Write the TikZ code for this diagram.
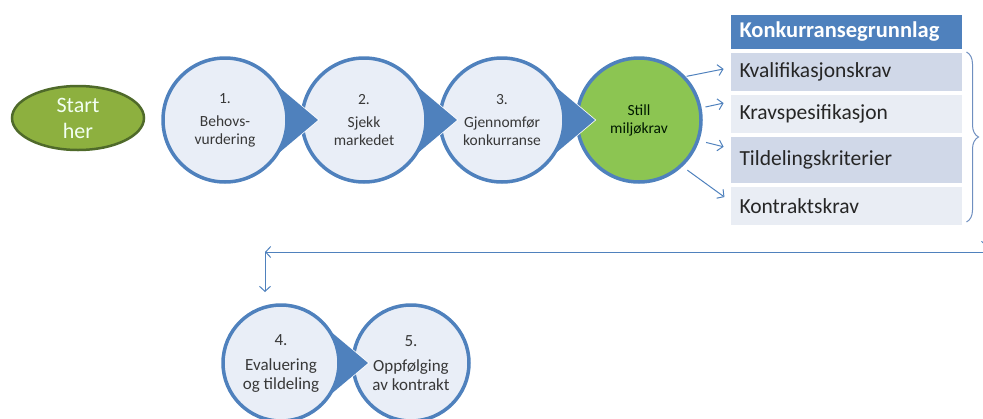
\documentclass[tikz,border=0pt]{standalone}
\usepackage{fontspec}
\setmainfont{Carlito}
\usetikzlibrary{positioning,shapes.geometric,decorations.pathreplacing,arrows.meta}
\definecolor{ofblue}{HTML}{4F81BD}
\definecolor{bracecol}{HTML}{6F8FC0}
\definecolor{stepfill}{HTML}{E9EEF7}
\definecolor{rowdark}{HTML}{D0D8E8}
\definecolor{rowlight}{HTML}{E9EDF4}
\definecolor{startgreen}{HTML}{8DB03F}
\definecolor{startline}{HTML}{4F6A2A}
\definecolor{kravgreen}{HTML}{8CC552}
\begin{document}
\begin{tikzpicture}[x=1pt,y=1pt,
  every node/.style={inner sep=0pt},
  stepnode/.style={circle,draw=ofblue,line width=3.5pt,fill=stepfill,minimum size=124pt,
    align=center,text=black!78,font=\fontsize{15.5}{18}\selectfont},
  lowstep/.style={stepnode,minimum size=116pt,font=\fontsize{17}{19}\selectfont},
  rowbox/.style={draw=white,line width=2pt,minimum width=233pt,text width=213pt,align=left,
    font=\fontsize{21.5}{25}\selectfont,text=black!85},
  link/.style={ofblue,line width=1pt,-{Straight Barb[length=5pt,width=11pt]}},
  gap/.style={white,line width=1.5pt,shorten <=16pt,shorten >=16pt}]
\useasboundingbox (0,0) rectangle (983,-418);
\node[ellipse,draw=startline,line width=2.5pt,fill=startgreen,minimum width=132pt,minimum height=64pt,
  align=center,text=green!5,font=\fontsize{22}{26}\selectfont] (start) at (78,-118) {Start\\her};
\node[stepnode] (s1) at (225,-120) {1.\\[5pt]Behovs-\\vurdering};
\node[stepnode] (s2) at (364,-120) {2.\\[5pt]Sjekk\\markedet};
\node[stepnode] (s3) at (502,-120) {3.\\[5pt]Gjennomfør\\konkurranse};
\node[stepnode,fill=kravgreen,text=black!90!green] (krav) at (639,-120) {Still\\miljøkrav};
\node[lowstep] (s4) at (281,-363) {4.\\[6pt]Evaluering\\og tildeling};
\node[lowstep] (s5) at (411,-363) {5.\\[6pt]Oppfølging\\av kontrakt};
\foreach \a in {s1,s2,s3} {
  \draw[gap] ([shift={(35:62pt)}]\a.center) -- ([xshift=93pt]\a.center) -- ([shift={(-35:62pt)}]\a.center);
  \fill[ofblue] ([shift={(35:62pt)}]\a.center) -- ([xshift=93pt]\a.center) -- ([shift={(-35:62pt)}]\a.center)
    arc[start angle=-35,end angle=35,radius=62pt] -- cycle;
}
\draw[gap] ([shift={(35:58pt)}]s4.center) -- ([xshift=87pt]s4.center) -- ([shift={(-35:58pt)}]s4.center);
\fill[ofblue] ([shift={(35:58pt)}]s4.center) -- ([xshift=87pt]s4.center) -- ([shift={(-35:58pt)}]s4.center)
  arc[start angle=-35,end angle=35,radius=58pt] -- cycle;
\node[rowbox,fill=ofblue,minimum height=36pt,text=white,font=\bfseries\fontsize{22.5}{26}\selectfont] (head) at (846,-32) {Konkurransegrunnlag};
\node[rowbox,fill=rowdark,minimum height=40pt,below=0pt of head] (kval) {Kvalifikasjonskrav};
\node[rowbox,fill=rowlight,minimum height=40pt,below=0pt of kval] (spes) {Kravspesifikasjon};
\node[rowbox,fill=rowdark,minimum height=48pt,below=0pt of spes] (tild) {Tildelingskriterier};
\node[rowbox,fill=rowlight,minimum height=40pt,below=0pt of tild] (kontr) {Kontraktskrav};
\draw[link,shorten <=1pt,shorten >=5pt] (krav.43) -- ([yshift=4pt]kval.west);
\draw[link,shorten <=4pt,shorten >=5pt] (krav.11) -- ([yshift=12pt]spes.west);
\draw[link,shorten <=7pt,shorten >=5pt] (krav.-19) -- ([yshift=12pt]tild.west);
\draw[link,shorten <=6pt,shorten >=5pt] (krav.-47) -- ([yshift=6pt]kontr.west);
\draw[bracecol,line width=1pt,decorate,decoration={brace,amplitude=12pt}]
  ([shift={(3pt,-1pt)}]kval.north east) -- ([shift={(3pt,5pt)}]kontr.south east);
\coordinate (bend) at (985,-252);
\coordinate (knee) at (265,-252);
\coordinate (drop) at (265,-292);
\coordinate (tail) at (987,-228);
\coordinate (tailend) at (987,-247);
\draw[link] (tail) -- (tailend);
\draw[link] (bend) -- (knee);
\draw[link] (knee) -- (drop);
\end{tikzpicture}
\end{document}
